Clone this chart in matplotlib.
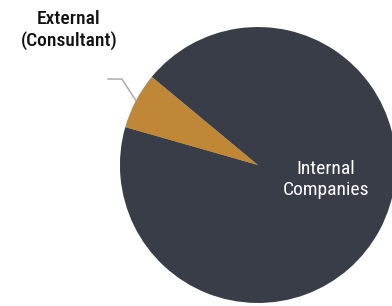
import matplotlib
matplotlib.use("Agg")
import matplotlib.pyplot as plt
import numpy as np

# andeler (prosent)
kategorier = ["External\n(Consultant)", "Internal\nCompanies"]
andeler = [6.6, 93.4]
farger = ["#c08836", "#393d48"]

plt.rcParams['font.family'] = ['Roboto Condensed', 'DejaVu Sans']

fig = plt.figure(figsize=(3.92, 3.06), dpi=100)
ax = fig.add_axes([0.306, 0.0098, 0.704, 0.902])

wedges, _ = ax.pie(andeler, colors=farger, startangle=140.3, counterclock=True,
                   radius=1.0, wedgeprops=dict(linewidth=0))
ax.set_xlim(-1, 1)
ax.set_ylim(-1, 1)
ax.set_aspect('equal')
ax.axis('off')

# leder-linje for den lille biten
w = wedges[0]
midt = np.deg2rad((w.theta1 + w.theta2) / 2)
x0, y0 = np.cos(midt), np.sin(midt)
ax.plot([x0, -0.986, -1.087], [y0, 0.623, 0.623], color="#a6a6a6",
        linewidth=1.0, clip_on=False)

ax.text(-1.37, 0.975, kategorier[0], ha='center', va='center', fontsize=14,
        fontweight='medium', color="#111111", linespacing=1.2)
ax.text(0.493, -0.105, kategorier[1], ha='center', va='center', fontsize=14,
        color="white", linespacing=1.2)

fig.savefig("out.png", dpi=100)
